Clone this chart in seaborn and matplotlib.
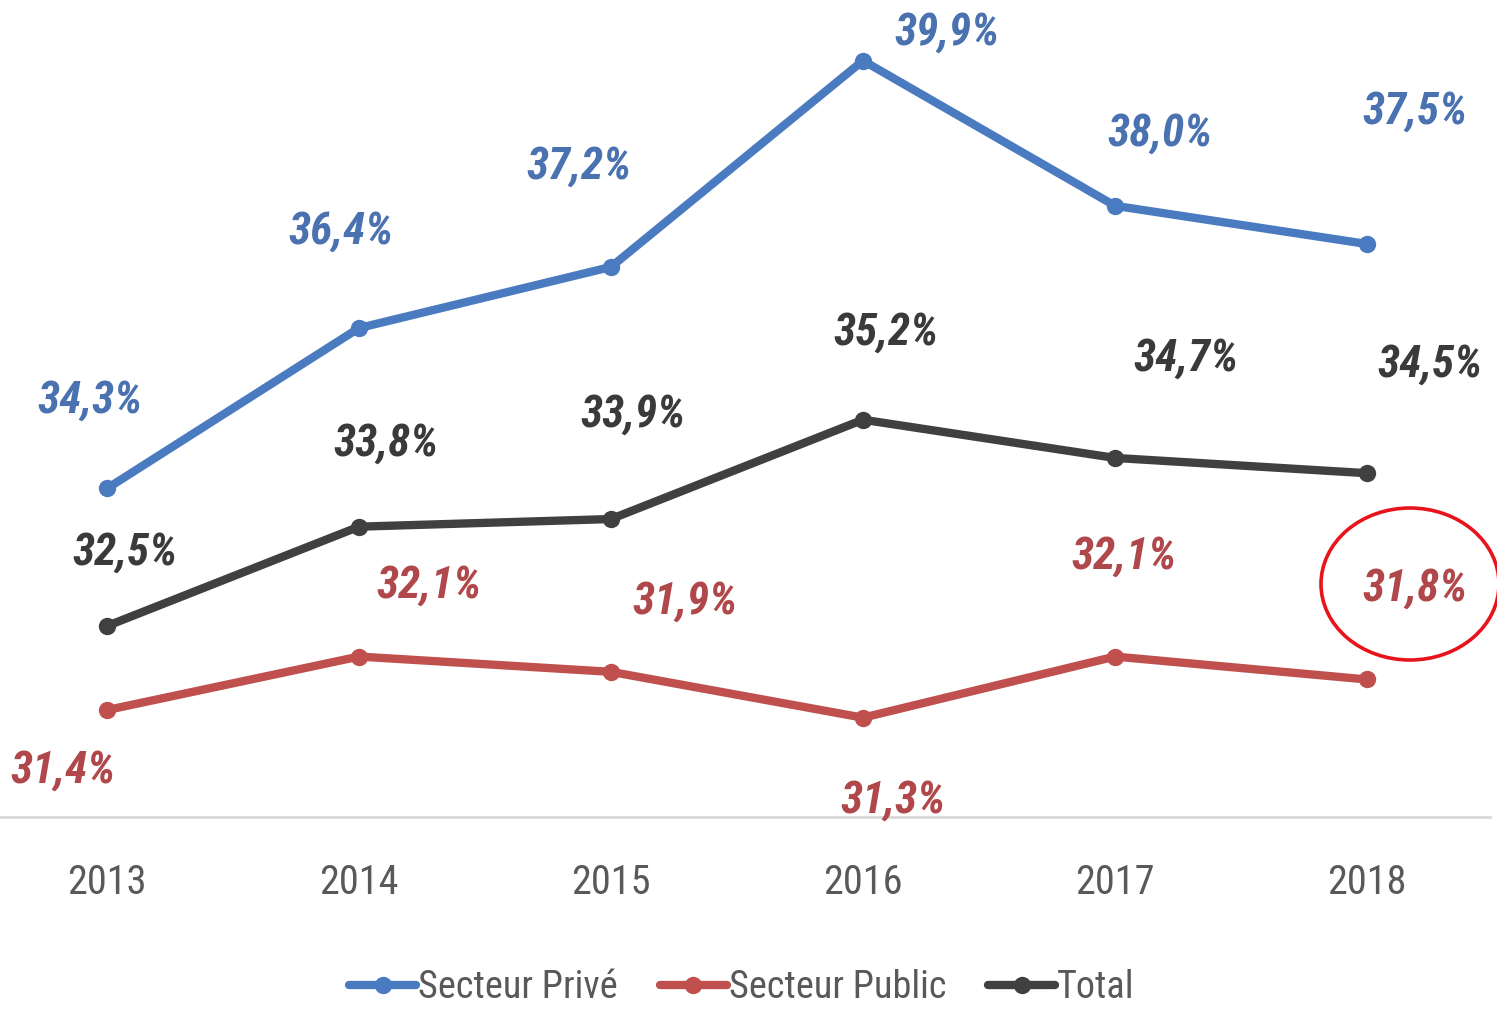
import matplotlib
matplotlib.use("Agg")
import matplotlib.pyplot as plt
from matplotlib.patches import Ellipse
from matplotlib.lines import Line2D
import seaborn as sns
import pandas as pd

# Data
years = [2013, 2014, 2015, 2016, 2017, 2018]
prive = [34.3, 36.4, 37.2, 39.9, 38.0, 37.5]
public = [31.4, 32.1, 31.9, 31.3, 32.1, 31.8]
total = [32.5, 33.8, 33.9, 35.2, 34.7, 34.5]
series_names = ["Secteur Privé", "Secteur Public", "Total"]

df = pd.DataFrame({
    "Année": years * 3,
    "Taux": prive + public + total,
    "Série": [series_names[0]] * 6 + [series_names[1]] * 6 + [series_names[2]] * 6,
})

colors = {"Secteur Privé": "#4A7BC0", "Secteur Public": "#C0504D", "Total": "#404040"}
label_colors = {"Secteur Privé": "#4A72B0", "Secteur Public": "#B0474A", "Total": "#3A3A3A"}

# Label offsets in pixels (dx, dy) from each point
offsets = {
    "Secteur Privé": [(-17, 88), (-18, 96), (-32, 100), (84, 28), (45, 72), (48, 132)],
    "Total": [(18, 73), (27, 83), (22, 104), (23, 87), (71, 99), (63, 109)],
    "Secteur Public": [(-44, -61), (70, 71), (74, 70), (30, -83), (9, 100), (48, 91)],
}

sns.set_theme(style="white")
plt.rcParams["font.family"] = ["Roboto Condensed", "DejaVu Sans"]

W, H = 1497, 1009
fig = plt.figure(figsize=(W / 100, H / 100), dpi=100)
ax = fig.add_axes([0, (H - 817) / H, 1490 / W, 817 / H])

sns.lineplot(data=df, x="Année", y="Taux", hue="Série", palette=colors,
             marker="o", markersize=12.5, linewidth=6, markeredgewidth=0,
             legend=False, ax=ax)

ax.set_xlim(2013 - 107 / 252, 2013 - 107 / 252 + 1490 / 252)
ax.set_ylim(30.0, 30.0 + 817 / 76.4)

for name, vals in zip(series_names, [prive, public, total]):
    for yr, v, (dx, dy) in zip(years, vals, offsets[name]):
        ax.annotate(f"{v:.1f}%".replace(".", ","), xy=(yr, v),
                    xytext=(dx, dy), textcoords="offset pixels",
                    ha="center", va="center", fontsize=32.5,
                    fontweight="bold", fontstyle="italic",
                    color=label_colors[name])

for side in ["top", "right", "left"]:
    ax.spines[side].set_visible(False)
ax.spines["bottom"].set_color("#D9D9D9")
ax.spines["bottom"].set_linewidth(2)
ax.set_yticks([])
ax.set_xticks(years)
ax.set_xticklabels([str(y) for y in years])
ax.tick_params(axis="x", length=0, pad=33, labelsize=29, labelcolor="#595959")
ax.set_xlabel("")
ax.set_ylabel("")

handles = [Line2D([0], [0], color=colors[n], linewidth=6, marker="o",
                  markersize=12.5, markeredgewidth=0) for n in series_names]
fig.legend(handles, series_names, loc="center", bbox_to_anchor=(742 / W, 21 / H),
           ncol=3, frameon=False, fontsize=27.5, handlelength=1.75,
           handletextpad=0.05, columnspacing=1.1, labelcolor="#595959")

# Highlight circle around the last public-sector value
circle = Ellipse((1410 / W, 1 - 584 / H), 178 / W, 152 / H,
                 transform=fig.transFigure, fill=False, edgecolor="#E8141B",
                 linewidth=2.6)
fig.patches.append(circle)

fig.savefig("out.png", dpi=100)
